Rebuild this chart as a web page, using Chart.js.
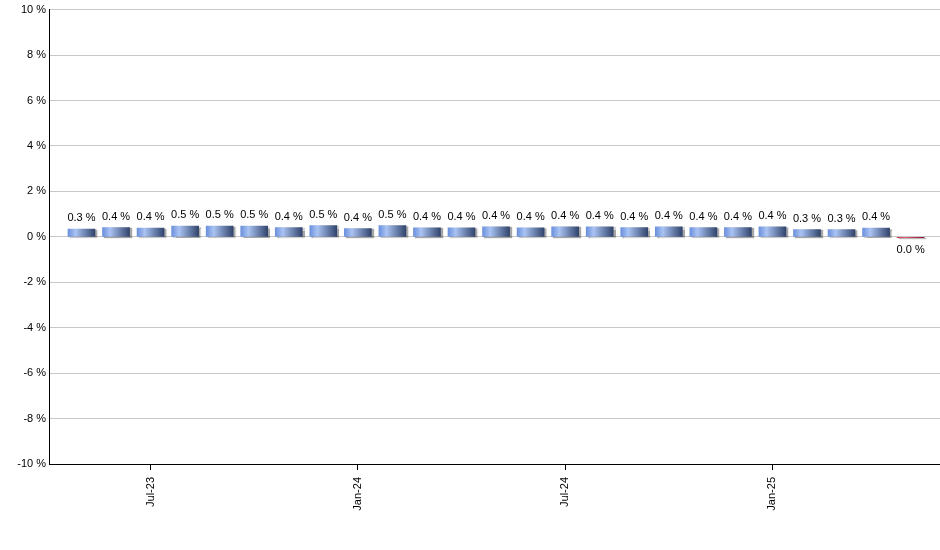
<!DOCTYPE html>
<html>
<head>
<meta charset="utf-8">
<script src="https://cdn.jsdelivr.net/npm/chart.js@4"></script>
<style>
  html, body { margin: 0; padding: 0; background: #fff; }
  #wrap { width: 940px; height: 550px; }
</style>
</head>
<body>
<div id="wrap"><canvas id="rateChart"></canvas></div>
<script>
// Data
const months = ['May-23', 'Jun-23', 'Jul-23', 'Aug-23', 'Sep-23', 'Oct-23', 'Nov-23', 'Dec-23',
    'Jan-24', 'Feb-24', 'Mar-24', 'Apr-24', 'May-24', 'Jun-24', 'Jul-24', 'Aug-24', 'Sep-24',
    'Oct-24', 'Nov-24', 'Dec-24', 'Jan-25', 'Feb-25', 'Mar-25', 'Apr-25', 'May-25'];
const rates = [0.34, 0.41, 0.38, 0.47, 0.47, 0.47, 0.41, 0.49, 0.36, 0.49, 0.40, 0.40, 0.44,
    0.40, 0.44, 0.44, 0.41, 0.44, 0.41, 0.41, 0.44, 0.32, 0.32, 0.38, -0.04];
const tickMonths = ['Jul-23', 'Jan-24', 'Jul-24', 'Jan-25'];
const yTicks = [-10, -8, -6, -4, -2, 0, 2, 4, 6, 8, 10];

const FONT = { family: 'Arial, "Liberation Sans", sans-serif', size: 11 };

function fmt(v) {
    let s = v.toFixed(1);
    if (s === '-0.0') s = '0.0';
    return s + ' %';
}

// bar fill: horizontal gradient across each bar
function barFill(ctx) {
    const i = ctx.dataIndex;
    const neg = rates[i] < 0;
    const xs = ctx.chart.scales.x;
    const cx = xs ? xs.getPixelForValue(i) : NaN;
    if (!isFinite(cx)) return neg ? '#c8304f' : '#6f8fd0';
    const g = ctx.chart.ctx.createLinearGradient(cx - 13.5, 0, cx + 13.5, 0);
    if (neg) {
        g.addColorStop(0, '#d0304f');
        g.addColorStop(0.3, '#e8607c');
        g.addColorStop(1, '#8a1430');
    } else {
        g.addColorStop(0, '#6b90dc');
        g.addColorStop(0.28, '#a9c3f3');
        g.addColorStop(1, '#31446c');
    }
    return g;
}

// small drop shadow on the bars
const barShadow = {
    id: 'barShadow',
    beforeDatasetsDraw(chart) {
        const c = chart.ctx;
        c.save();
        c.shadowColor = 'rgba(0,0,0,0.35)';
        c.shadowOffsetX = 2;
        c.shadowOffsetY = 1;
        c.shadowBlur = 1;
    },
    afterDatasetsDraw(chart) {
        chart.ctx.restore();
    }
};

// value labels above / below bars
const valueLabels = {
    id: 'valueLabels',
    afterDatasetsDraw(chart) {
        const c = chart.ctx;
        const meta = chart.getDatasetMeta(0);
        c.save();
        c.font = FONT.size + 'px ' + FONT.family;
        c.fillStyle = '#000';
        c.textAlign = 'center';
        c.textBaseline = 'middle';
        meta.data.forEach((bar, i) => {
            const v = rates[i];
            const y = v >= 0 ? bar.y - 11 : bar.y + 12;
            c.fillText(fmt(v), bar.x, y);
        });
        c.restore();
    }
};

document.addEventListener('DOMContentLoaded', () => {
    const ctx = document.getElementById('rateChart').getContext('2d');
    new Chart(ctx, {
        type: 'bar',
        data: {
            datasets: [{
                data: rates.map((v, i) => ({ x: i, y: v })),
                backgroundColor: barFill,
                borderWidth: 0,
                barThickness: 27
            }]
        },
        options: {
            responsive: true,
            maintainAspectRatio: false,
            animation: false,
            layout: { padding: { top: 9, right: 0, bottom: 0, left: 0 } },
            plugins: {
                legend: { display: false },
                tooltip: { enabled: false }
            },
            scales: {
                x: {
                    type: 'linear',
                    offset: false,
                    min: -0.94,
                    max: 24.85,
                    afterFit(scale) { scale.height = 86; },
                    afterBuildTicks(scale) {
                        scale.ticks = tickMonths.map(m => ({ value: months.indexOf(m) }));
                    },
                    grid: { offset: false, drawOnChartArea: false, drawTicks: true, tickLength: 6, color: '#000' },
                    border: { display: true, color: '#000', width: 1 },
                    ticks: {
                        autoSkip: false,
                        minRotation: 90,
                        maxRotation: 90,
                        padding: 7,
                        color: '#000',
                        font: FONT,
                        callback: v => months[v]
                    }
                },
                y: {
                    min: -10,
                    max: 10,
                    afterFit(scale) { scale.width = 49; },
                    afterBuildTicks(scale) {
                        scale.ticks = yTicks.map(v => ({ value: v }));
                    },
                    grid: { color: '#c8c8c8', drawTicks: false },
                    border: { display: true, color: '#000', width: 1 },
                    ticks: {
                        padding: 3,
                        color: '#000',
                        font: FONT,
                        callback: v => v + ' %'
                    }
                }
            }
        },
        plugins: [barShadow, valueLabels]
    });
});
</script>
</body>
</html>
